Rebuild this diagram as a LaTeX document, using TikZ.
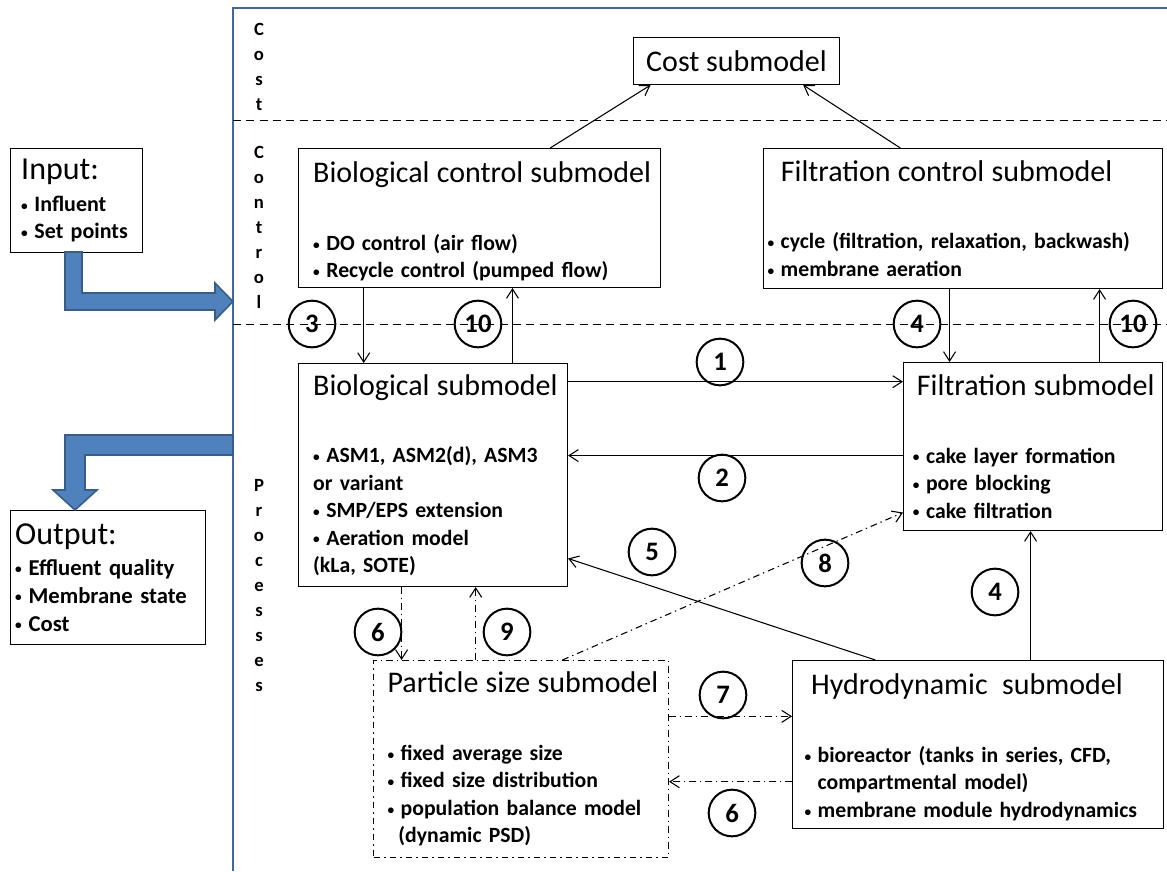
\documentclass[tikz,border=0pt]{standalone}
\usepackage{fontspec}
\setmainfont{Carlito}
\usetikzlibrary{arrows.meta,calc}
\definecolor{frameblue}{HTML}{40679F}
\definecolor{arrowfill}{HTML}{4F81BD}
\definecolor{arrowline}{HTML}{385D8A}
\newcommand{\boxtitle}[1]{\mbox{\mdseries\fontsize{22.5}{24}\selectfont #1}}
\newcommand{\iotitle}[1]{\mbox{\mdseries\fontsize{24}{26}\selectfont #1}}
\newcommand{\bul}{{\fontsize{10}{10}\selectfont\raisebox{0.9pt}{\textbullet}}\hspace{0.3em}}

\begin{document}
\begin{tikzpicture}[
x=0.75pt, y=-0.75pt,
>={Straight Barb[length=7pt,width=9pt]},
arrow/.style={draw,->,line width=0.8pt},
dashdot/.style={dash pattern=on 5pt off 3pt on 1pt off 3pt},
box/.style={draw, line width=0.8pt, anchor=north west, align=left, inner ysep=0pt, font=\bfseries\fontsize{16.3}{20.6}\selectfont},
num/.style={circle, draw, line width=1.5pt, minimum size=35pt, inner sep=0pt, font=\bfseries\fontsize{20}{22}\selectfont},
side/.style={align=center, font=\bfseries\fontsize{14}{18.75}\selectfont},
bigarrow/.style={fill=arrowfill, draw=arrowline, line width=1.2pt}
]
\useasboundingbox (0,0) rectangle (1167,871);

% frame and layers
\draw[frameblue, line width=2.2pt] (1167,8) -- (233,8) -- (233,871);
\draw[dashed, dash pattern=on 6pt off 4pt, line width=0.7pt] (233,120) -- (1167,120);
\draw[dashed, dash pattern=on 6pt off 4pt, line width=0.7pt] (233,324) -- (1167,324);

\node[side] (costlbl) at (259,67) {C\\o\\s\\t};
\node[side] (ctrllbl) at (259,227) {C\\o\\n\\t\\r\\o\\l};
\node[side] (proclbl) at (259,586) {P\\r\\o\\c\\e\\s\\s\\e\\s};

% submodels
\node[box, align=center, minimum width=154.5pt, minimum height=35.25pt, inner xsep=0pt] (cost) at (633,37) {\boxtitle{Cost submodel}};
\node[box, minimum width=271.5pt, minimum height=104.25pt, inner xsep=11pt, text width=249.5pt] (bioctrl) at (298,148)
  {\rule{0pt}{21pt}\boxtitle{Biological control submodel}\\[30pt]
   \bul DO control (air flow)\\
   \bul Recycle control (pumped flow)};
\node[box, minimum width=299.25pt, minimum height=105pt, inner xsep=3pt, text width=293.25pt] (filtctrl) at (763,148)
  {\hspace*{10pt}\boxtitle{Filtration control submodel}\\[30pt]
   \bul cycle (filtration, relaxation, backwash)\\
   \bul membrane aeration};
\node[box, minimum width=201.75pt, minimum height=167.25pt, inner xsep=11pt, text width=179.75pt] (bio) at (298,363)
  {\boxtitle{Biological submodel}\\[30pt]
   \bul ASM1, ASM2(d), ASM3\\
   or variant\\
   \bul SMP/EPS extension\\
   \bul Aeration model\\
   (kLa, SOTE)};
\node[box, minimum width=194.25pt, minimum height=126pt, inner xsep=7pt, text width=180.25pt] (filt) at (903,362)
  {\hspace*{3pt}\boxtitle{Filtration submodel}\\[30pt]
   \bul cake layer formation\\
   \bul pore blocking\\
   \bul cake filtration};
\node[box, dashdot, minimum width=221.25pt, minimum height=147.75pt, inner xsep=10.5pt, text width=200.25pt] (psd) at (373,660)
  {\boxtitle{Particle size submodel}\\[30pt]
   \bul fixed average size\\
   \bul fixed size distribution\\
   \bul population balance model\\
   \hspace*{0.5em}(dynamic PSD)};
\node[box, minimum width=278.25pt, minimum height=126pt, inner xsep=9pt, text width=260.25pt] (hydro) at (792,660)
  {\rule{0pt}{20pt}\hspace*{5pt}\boxtitle{Hydrodynamic\ \ submodel}\\[30pt]
   \bul bioreactor (tanks in series, CFD,\\
   \hspace*{0.6em}compartmental model)\\
   \bul membrane module hydrodynamics};

% input and output
\node[box, font=\bfseries\fontsize{16.5}{20}\selectfont, minimum width=99pt, minimum height=78pt, inner xsep=8pt, text width=83pt] (input) at (10,148)
  {\iotitle{Input:}\\[4pt]
   \bul Influent\\
   \bul Set points};
\node[box, font=\bfseries\fontsize{17}{21}\selectfont, minimum width=146.25pt, minimum height=100.5pt, inner xsep=3.5pt, text width=139.25pt] (output) at (10,510)
  {\iotitle{Output:}\\[2pt]
   \bul Effluent quality\\
   \bul Membrane state\\
   \bul Cost};

\filldraw[bigarrow] (65,252) -- (82,252) -- (82,293) -- (215,293) -- (215,283) -- (233,301.5)
  -- (215,320) -- (215,310) -- (65,310) -- cycle;
\filldraw[bigarrow] (233,435) -- (65,435) -- (65,490) -- (53,490) -- (75,510) -- (97,490)
  -- (85,490) -- (85,455) -- (233,455) -- cycle;

% connectors
\path[arrow] ([xshift=53pt]bioctrl.north) -- ([xshift=-64.5pt]cost.south);
\path[arrow] ([xshift=-47pt]filtctrl.north) -- ([xshift=50pt]cost.south);
\path[arrow] ([xshift=-52pt]bio.north |- bioctrl.south) -- ([xshift=-52pt]bio.north);
\path[arrow] ([xshift=59.6pt]bio.north) -- ([xshift=59.6pt]bio.north |- bioctrl.south);
\path[arrow] ([xshift=-62.6pt]filt.north |- filtctrl.south) -- ([xshift=-62.6pt]filt.north);
\path[arrow] ([xshift=49.9pt]filt.north) -- ([xshift=49.9pt]filt.north |- filtctrl.south);
\path[arrow] ([yshift=70pt]bio.east) -- ([yshift=70pt]bio.east -| filt.west);
\path[arrow] ([yshift=14.6pt]bio.east -| filt.west) -- ([yshift=14.6pt]bio.east);
\path[arrow] ([xshift=-77pt]hydro.north) -- ([yshift=-62.6pt]bio.east);
\path[arrow] ([xshift=39.4pt]hydro.north) -- ([xshift=39.4pt]hydro.north |- filt.south);
\path[arrow, dashdot] ([xshift=31pt]psd.north) -- ([yshift=-49.5pt]filt.west);
\path[arrow, dashdot] ([xshift=-89.6pt]psd.north |- bio.south) -- ([xshift=-89.6pt]psd.north);
\path[arrow, dashdot] ([xshift=-34pt]psd.north) -- ([xshift=-34pt]psd.north |- bio.south);
\path[arrow, dashdot] ([yshift=32pt]psd.east) -- ([yshift=32pt]psd.east -| hydro.west);
\path[arrow, dashdot] ([yshift=-17pt]psd.east -| hydro.west) -- ([yshift=-17pt]psd.east);

% numbers
\node[num] (n1) at (720,362) {1};
\node[num] (n2) at (722,478) {2};
\node[num] (n3) at (312,324) {3};
\node[num] (n10a) at (478,324) {10};
\node[num] (n4a) at (917,324) {4};
\node[num] (n10b) at (1133,324) {10};
\node[num] (n5) at (652,552) {5};
\node[num] (n8) at (825,563) {8};
\node[num] (n4b) at (995,592) {4};
\node[num] (n6a) at (378,632) {6};
\node[num] (n9) at (507,632) {9};
\node[num] (n7) at (723,695) {7};
\node[num] (n6b) at (732,813) {6};

\end{tikzpicture}
\end{document}
